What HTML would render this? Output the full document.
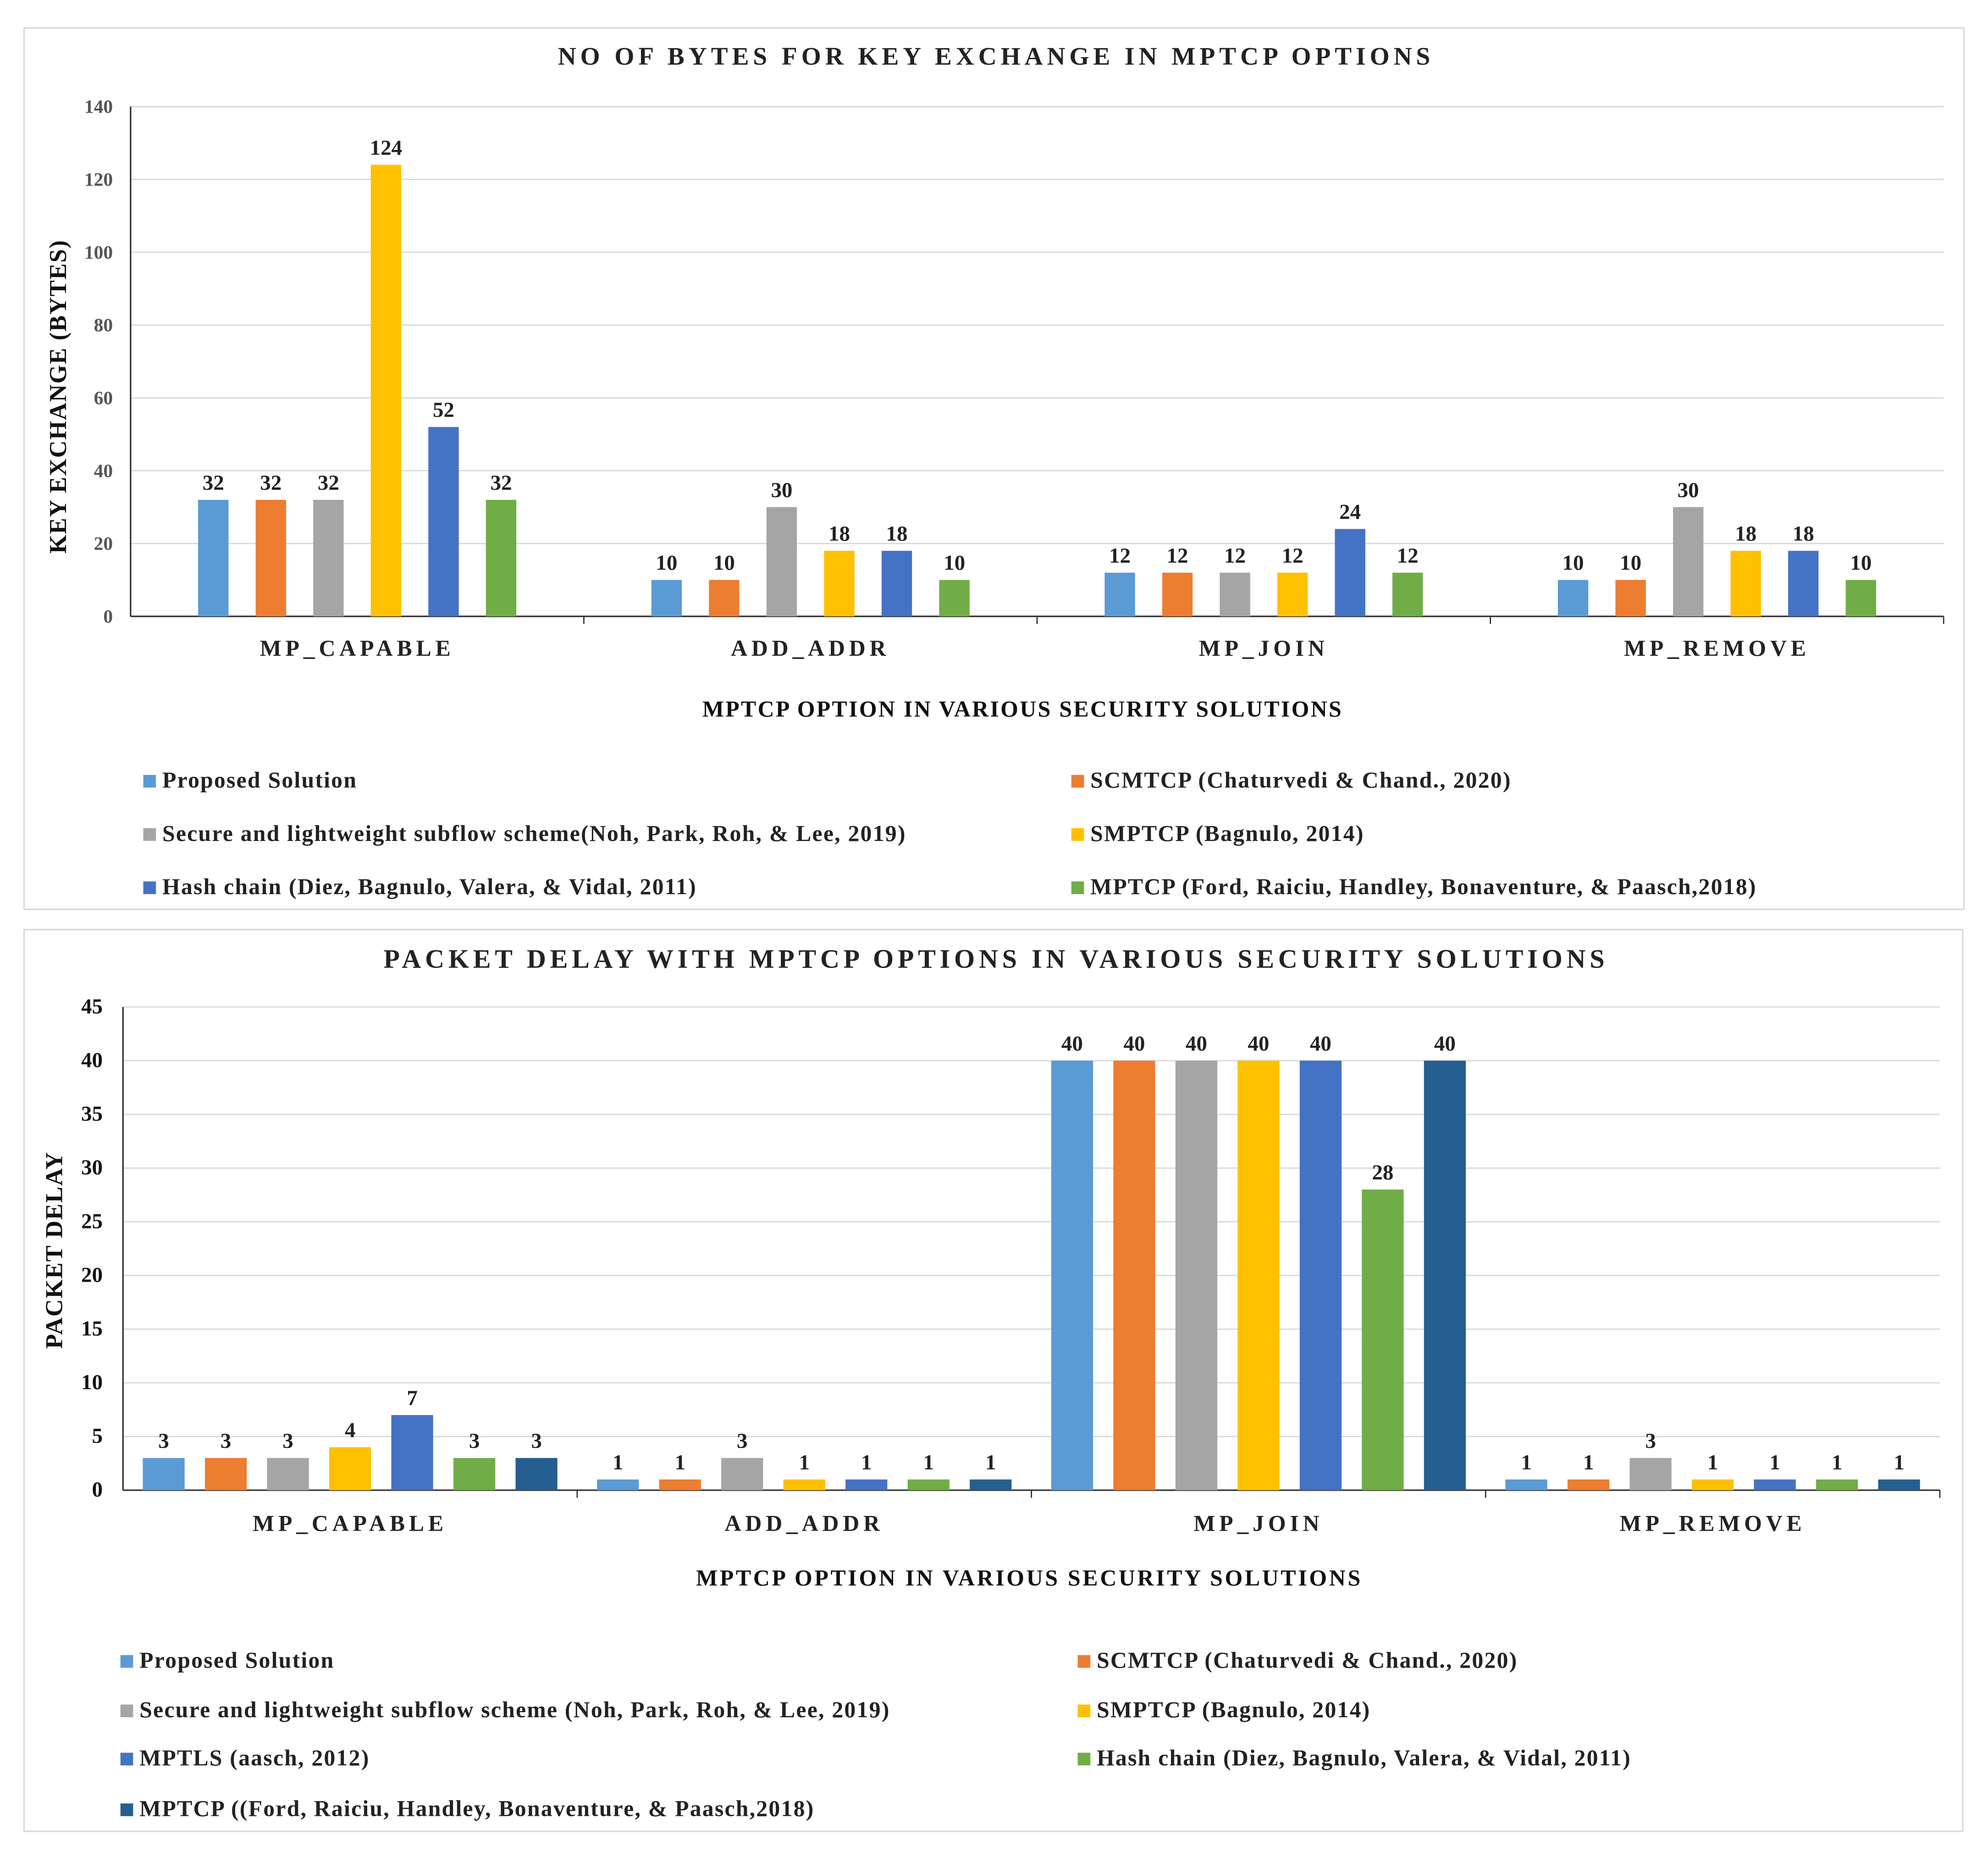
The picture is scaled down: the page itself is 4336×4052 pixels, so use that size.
<!DOCTYPE html>
<html><head><meta charset="utf-8"><style>
html,body{margin:0;padding:0;background:#fff;}
svg{display:block;font-family:"Liberation Serif",serif;font-weight:bold;}
</style></head><body>
<svg id="root" width="4336" height="4052" viewBox="0 0 1568 1465" preserveAspectRatio="none" xmlns="http://www.w3.org/2000/svg">
<rect x="0" y="0" width="1568" height="1465" fill="#fff"/>
<rect x="19" y="22" width="1530" height="695" fill="#fff" stroke="#d9d9d9" stroke-width="1.2"/>
<rect x="19" y="733" width="1529" height="711" fill="#fff" stroke="#d9d9d9" stroke-width="1.2"/>
<g id="c1"></g><g id="c2"></g>
</svg>
<script>
const NS="http://www.w3.org/2000/svg";
const cats1=["MP_CAPABLE","ADD_ADDR","MP_JOIN","MP_REMOVE"];
const s1_proposed=[32,10,12,10];
const s1_scmtcp=[32,10,12,10];
const s1_secure=[32,30,12,30];
const s1_smptcp=[124,18,12,18];
const s1_hash=[52,18,24,18];
const s1_mptcp=[32,10,12,10];
const ticks1=[0,20,40,60,80,100,120,140];
const names1=["Proposed Solution","SCMTCP (Chaturvedi & Chand., 2020)","Secure and lightweight subflow scheme(Noh, Park, Roh, & Lee, 2019)","SMPTCP (Bagnulo, 2014)","Hash chain (Diez, Bagnulo, Valera, & Vidal, 2011)","MPTCP (Ford, Raiciu, Handley, Bonaventure, & Paasch,2018)"];

const cats2=["MP_CAPABLE","ADD_ADDR","MP_JOIN","MP_REMOVE"];
const s2_proposed=[3,1,40,1];
const s2_scmtcp=[3,1,40,1];
const s2_secure=[3,3,40,3];
const s2_smptcp=[4,1,40,1];
const s2_mptls=[7,1,40,1];
const s2_hash=[3,1,28,1];
const s2_mptcp=[3,1,40,1];
const ticks2=[0,5,10,15,20,25,30,35,40,45];
const names2=["Proposed Solution","SCMTCP (Chaturvedi & Chand., 2020)","Secure and lightweight subflow scheme (Noh, Park, Roh, & Lee, 2019)","SMPTCP (Bagnulo, 2014)","MPTLS (aasch, 2012)","Hash chain (Diez, Bagnulo, Valera, & Vidal, 2011)","MPTCP ((Ford, Raiciu, Handley, Bonaventure, & Paasch,2018)"];

function mk(tag,attrs,parent,txt){const e=document.createElementNS(NS,tag);for(const k in attrs)e.setAttribute(k,attrs[k]);if(txt!==undefined)e.textContent=txt;parent.appendChild(e);return e;}

function chart(g,o){
  const y=v=>o.y0-(v/o.ymax)*(o.y0-o.y1);
  const gw=(o.x1-o.x0)/o.cats.length;
  const x=i=>o.x0+gw*(i+0.5);
  let t=mk('text',{x:784,y:o.titleY,'text-anchor':'middle','font-size':o.titleSize,textLength:o.titleLen,lengthAdjust:'spacing',fill:'#222'},g,o.title);
  
  
  o.ticks.forEach(v=>{
    if(v>0){const l=mk('line',{x1:o.x0,x2:o.x1,y1:y(v),y2:y(v),stroke:'#d9d9d9','stroke-width':1},g);
    
    }
    const tl=mk('text',{x:o.x0-o.tickPad,y:y(v)+5,'text-anchor':'end','font-size':o.tickSize,fill:o.tickColor},g,String(v));
    
    
  });
  const ya=mk('line',{x1:o.x0,x2:o.x0,y1:o.y1,y2:o.y0,stroke:'#333','stroke-width':1.2},g);
  
  
  const xa=mk('line',{x1:o.x0,x2:o.x1,y1:o.y0,y2:o.y0,stroke:'#333','stroke-width':1.2},g);
  
  
  for(let i=1;i<=o.cats.length;i++){const tk=mk('line',{x1:o.x0+gw*i,x2:o.x0+gw*i,y1:o.y0,y2:o.y0+6,stroke:'#333','stroke-width':1},g);
    
    }
  const n=o.series.length;
  o.cats.forEach((c,i)=>{
    o.series.forEach((s,j)=>{
      const cx=x(i)+(j-(n-1)/2)*o.step;
      const v=s[i];
      const r=mk('rect',{x:cx-o.bw/2,y:y(v),width:o.bw,height:o.y0-y(v),fill:o.colors[j]},g);
      
      
      const lb=mk('text',{x:cx,y:y(v)-8,'text-anchor':'middle','font-size':o.valSize,fill:'#222'},g,String(v));
      
      
    });
    const cl=mk('text',{x:x(i),y:o.catY,'text-anchor':'middle','font-size':o.catSize,'letter-spacing':'3.2',fill:'#222'},g,c);
    
    
  });
  const xt=mk('text',{x:o.xtX,y:o.xtY,'text-anchor':'middle','font-size':o.axSize,textLength:o.xtLen,lengthAdjust:'spacing',fill:'#111'},g,'MPTCP OPTION IN VARIOUS  SECURITY  SOLUTIONS');
  
  
  const yt=mk('text',{x:0,y:0,'text-anchor':'middle','font-size':o.ytSize,textLength:o.ytLen,lengthAdjust:'spacing',fill:'#111',transform:`translate(${o.ytX},${o.ytY}) rotate(-90)`},g,o.ytitle);
  
  
  o.names.forEach((nm,j)=>{
    const col=j%2,row=Math.floor(j/2);
    const lx=o.legX[col],ly=o.legY[row];
    const sq=mk('rect',{x:lx,y:ly-9,width:10,height:10,fill:o.colors[j]},g);
    
    
    const lt=mk('text',{x:lx+15,y:ly+1,'font-size':o.legSize,'letter-spacing':o.legSp,fill:'#222'},g,nm);
    
    
  });
}
chart(document.getElementById('c1'),{title:'NO OF BYTES FOR KEY EXCHANGE IN MPTCP OPTIONS',titleY:51,titleSize:20,titleLen:688,
  x0:103,x1:1533,y0:486,y1:84,ymax:140,ticks:ticks1,tickPad:14,tickSize:15,tickColor:'#555',
  cats:cats1,series:[s1_proposed,s1_scmtcp,s1_secure,s1_smptcp,s1_hash,s1_mptcp],
  colors:['#5B9BD5','#ED7D31','#A5A5A5','#FFC000','#4472C4','#70AD47'],
  step:45.4,bw:24,valSize:17,catY:517,catSize:18,xtX:806,xtY:565,axSize:18,xtLen:504,
  ytitle:'KEY EXCHANGE  (BYTES)',ytX:52,ytY:313,ytSize:19,ytLen:247,
  names:names1,legX:[113,845],legY:[620,662,704],legSize:18,legSp:0.8});
chart(document.getElementById('c2'),{title:'PACKET DELAY WITH MPTCP OPTIONS IN VARIOUS SECURITY SOLUTIONS',titleY:763,titleSize:21,titleLen:963,
  x0:97,x1:1530,y0:1175,y1:794,ymax:45,ticks:ticks2,tickPad:16,tickSize:17,tickColor:'#111',
  cats:cats2,series:[s2_proposed,s2_scmtcp,s2_secure,s2_smptcp,s2_mptls,s2_hash,s2_mptcp],
  colors:['#5B9BD5','#ED7D31','#A5A5A5','#FFC000','#4472C4','#70AD47','#255E91'],
  step:49,bw:33,valSize:17,catY:1207,catSize:18,xtX:811,xtY:1250,axSize:18,xtLen:524,
  ytitle:'PACKET DELAY',ytX:49,ytY:986,ytSize:19,ytLen:155,
  names:names2,legX:[95,850],legY:[1314,1353,1391,1431],legSize:18,legSp:0.8});
</script>
</body></html>
